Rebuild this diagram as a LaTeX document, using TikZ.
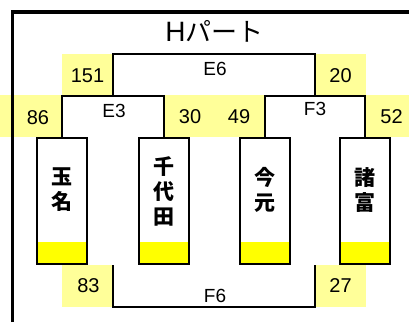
\documentclass[tikz,border=0pt]{standalone}
\usepackage{fontspec}
\setmainfont{Liberation Sans}
\newfontfamily\cjk{Noto Sans CJK JP}
\definecolor{numyellow}{HTML}{FFFF99}
\definecolor{teamyellow}{HTML}{FFFF00}
\begin{document}
\begin{tikzpicture}[x=1pt,y=-1pt,
  numbox/.style={fill=numyellow, draw=none, inner sep=0pt, outer sep=0pt},
  numtext/.style={font=\fontsize{20}{20}\selectfont, inner sep=0pt},
  lbltext/.style={font=\fontsize{19}{19}\selectfont, inner sep=0pt},
  bracket/.style={line width=2pt},
  team/.style={draw, line width=2pt, minimum width=50pt, minimum height=126pt, inner sep=0pt,
    path picture={\fill[teamyellow] (path picture bounding box.south west) rectangle ([yshift=22pt]path picture bounding box.south east);}},
  teamname/.style={font=\cjk\bfseries\fontsize{21}{25}\selectfont, align=center, inner sep=0pt}
]
\useasboundingbox (0,0) rectangle (409,322);
% yellow number boxes
\node[numbox, minimum width=50pt, minimum height=41pt] (b151) at (87,74.5) {};
\node[numbox, minimum width=62pt, minimum height=42pt] (b86) at (31,116) {};
\node[numbox, minimum width=102pt, minimum height=42pt] (b3049) at (214,116) {};
\node[numbox, minimum width=50pt, minimum height=41pt] (b20) at (341,74.5) {};
\node[numbox, minimum width=43pt, minimum height=42pt] (b52) at (387.5,116) {};
\node[numbox, minimum width=50pt, minimum height=42pt] (b83) at (87,286) {};
\node[numbox, minimum width=51pt, minimum height=42pt] (b27) at (340.5,286) {};
% number texts
\node[numtext] (n151) at (87.5,76) {151};
\node[numtext] (n86) at (38,118) {86};
\node[numtext] (n30) at (190,117) {30};
\node[numtext] (n49) at (239,117) {49};
\node[numtext] (n20) at (340.5,76) {20};
\node[numtext] (n52) at (391.5,117) {52};
\node[numtext] (n83) at (88.5,286) {83};
\node[numtext] (n27) at (340.5,286) {27};
% frame
\draw[line width=3.5pt] (12.3,322) -- (12.3,12) -- (409,12);
% title
\node[inner sep=0pt] (title) at (214.5,31) {\fontsize{28}{28}\selectfont H{\cjk\fontsize{26}{26}\selectfont パート}};
% teams
\node[team] (t1) at (62.2,201) {};
\node[team] (t2) at (163.5,201) {};
\node[team] (t3) at (264.7,201) {};
\node[team] (t4) at (365.2,201) {};
\node[teamname] (name1) at (62.2,190) {玉\\名};
\node[teamname] (name2) at (163.5,191) {千\\代\\田};
\node[teamname] (name3) at (264.7,190) {今\\元};
\node[teamname] (name4) at (365.2,190) {諸\\富};
% brackets
\coordinate (e3) at (113,96);
\coordinate (f3) at (315,96);
\draw[bracket] (t1.north) |- (e3) -| (t2.north);
\draw[bracket] (t3.north) |- (f3) -| (t4.north);
\draw[bracket] (e3) |- (215,54) -| (f3);
\coordinate (f6) at (215,307);
\draw[bracket] (113,265) |- (f6) -| (315,265);
% labels
\node[lbltext] (lE6) at (215,69) {E6};
\node[lbltext] (lE3) at (114,111) {E3};
\node[lbltext] (lF3) at (315,109) {F3};
\node[lbltext] (lF6) at (215,296) {F6};
\end{tikzpicture}
\end{document}
